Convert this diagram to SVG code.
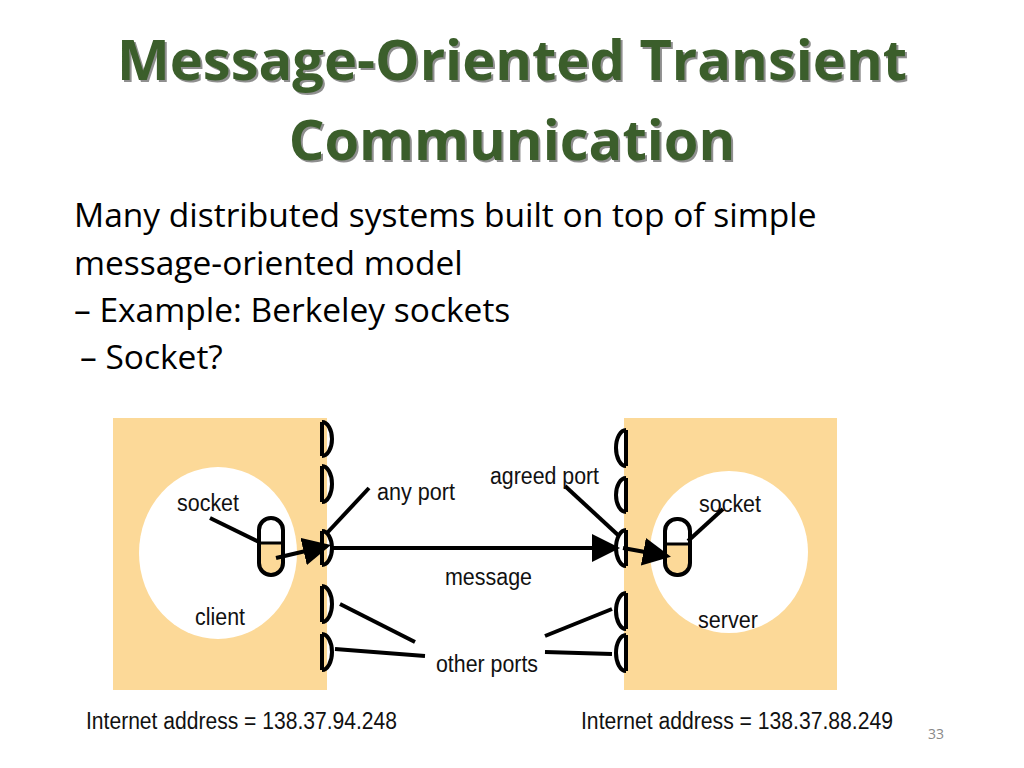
<svg xmlns="http://www.w3.org/2000/svg" width="1024" height="768" viewBox="0 0 1024 768">
<style>
.t{font-family:"Open Sans","Liberation Sans",sans-serif;font-weight:bold;font-size:56px;fill:#3b5e2b;text-anchor:middle}
.ts{font-family:"Open Sans","Liberation Sans",sans-serif;font-weight:bold;font-size:56px;fill:#222;opacity:.5;text-anchor:middle}
.b{font-family:"Open Sans","Liberation Sans",sans-serif;font-size:33.5px;fill:#000}
.l{font-family:"Liberation Sans",Arial,sans-serif;font-size:23px;fill:#111}
.ln{stroke:#000;stroke-width:4;fill:none}
.pt{stroke:#000;stroke-width:4;fill:none}
</style>
<defs>
<marker id="ah" markerWidth="7" markerHeight="7" refX="6" refY="3.5" orient="auto" markerUnits="strokeWidth"><path d="M0,0 L7,3.5 L0,7 z" fill="#000"/></marker>
</defs>
<rect width="1024" height="768" fill="#fff"/>
<g id="title">
<text class="ts" x="514" y="82">Message-Oriented Transient</text>
<text class="ts" x="514" y="162">Communication</text>
<text class="t" x="512" y="80">Message-Oriented Transient</text>
<text class="t" x="512" y="160">Communication</text>
</g>
<g id="body">
<text class="b" x="74" y="227">Many distributed systems built on top of simple</text>
<text class="b" x="74" y="275">message-oriented model</text>
<text class="b" x="74" y="322">– Example: Berkeley sockets</text>
<text class="b" x="80" y="369">– Socket?</text>
</g>
<g id="client">
<rect x="113" y="418" width="214" height="272" fill="#fcd998"/>
<ellipse cx="218" cy="553" rx="79" ry="86" fill="#fff"/>
<rect x="259" y="518" width="24" height="57" rx="12" fill="#fcd998"/>
<path d="M259,530 a12,12 0 0 1 24,0 v13 h-24 z" fill="#fff"/>
<rect x="259" y="518" width="24" height="57" rx="12" fill="none" stroke="#000" stroke-width="4"/>
<line x1="259" y1="543" x2="283" y2="543" stroke="#000" stroke-width="3"/>
<text class="l" x="177" y="511" textLength="62" lengthAdjust="spacingAndGlyphs">socket</text>
<text class="l" x="195" y="625" textLength="50" lengthAdjust="spacingAndGlyphs">client</text>
</g>
<g id="client-ports">
<path class="pt" d="M322,422 v34 M322,422 a10,17 0 0 1 0,34"/>
<path class="pt" d="M322,466 v36 M322,466 a10,18 0 0 1 0,36"/>
<path class="pt" d="M322,531 v34 M322,531 a10,17 0 0 1 0,34"/>
<path class="pt" d="M322,586 v36 M322,586 a10,18 0 0 1 0,36"/>
<path class="pt" d="M322,634 v36 M322,634 a10,18 0 0 1 0,36"/>
</g>
<g id="server">
<rect x="624" y="418" width="213" height="272" fill="#fcd998"/>
<ellipse cx="729" cy="552" rx="79" ry="81" fill="#fff"/>
<rect x="665" y="519" width="25" height="56" rx="12" fill="#fcd998"/>
<path d="M665,531 a12.5,12 0 0 1 25,0 v13 h-25 z" fill="#fff"/>
<rect x="665" y="519" width="25" height="56" rx="12" fill="none" stroke="#000" stroke-width="4"/>
<line x1="665" y1="544" x2="690" y2="544" stroke="#000" stroke-width="3"/>
<text class="l" x="699" y="512" textLength="62" lengthAdjust="spacingAndGlyphs">socket</text>
<text class="l" x="698" y="628" textLength="60" lengthAdjust="spacingAndGlyphs">server</text>
</g>
<g id="server-ports">
<path class="pt" d="M626,430 v36 M626,430 a10,18 0 0 0 0,36"/>
<path class="pt" d="M626,478 v34 M626,478 a10,17 0 0 0 0,34"/>
<path class="pt" d="M626,530 v36 M626,530 a10,18 0 0 0 0,36"/>
<path class="pt" d="M626,593 v36 M626,593 a10,18 0 0 0 0,36"/>
<path class="pt" d="M626,635 v36 M626,635 a10,18 0 0 0 0,36"/>
</g>
<g id="connectors">
<line class="ln" x1="276" y1="558" x2="327" y2="546" marker-end="url(#ah)"/>
<line class="ln" x1="333" y1="548" x2="616" y2="548" marker-end="url(#ah)"/>
<line class="ln" x1="623" y1="548" x2="667" y2="556" marker-end="url(#ah)"/>
<line class="ln" x1="210" y1="518" x2="259" y2="542"/>
<line class="ln" x1="688" y1="541" x2="723" y2="509"/>
<line class="ln" x1="327" y1="533" x2="369" y2="488"/>
<line class="ln" x1="565" y1="486" x2="618" y2="535"/>
<line class="ln" x1="340" y1="604" x2="415" y2="642"/>
<line class="ln" x1="335" y1="649" x2="425" y2="656"/>
<line class="ln" x1="545" y1="636" x2="612" y2="609"/>
<line class="ln" x1="545" y1="652" x2="612" y2="654"/>
</g>
<g id="labels">
<text class="l" x="377" y="500" textLength="78" lengthAdjust="spacingAndGlyphs">any port</text>
<text class="l" x="490" y="484" textLength="109" lengthAdjust="spacingAndGlyphs">agreed port</text>
<text class="l" x="445" y="585" textLength="87" lengthAdjust="spacingAndGlyphs">message</text>
<text class="l" x="436" y="672" textLength="102" lengthAdjust="spacingAndGlyphs">other ports</text>
<text class="l" x="86" y="729" textLength="311" lengthAdjust="spacingAndGlyphs">Internet address = 138.37.94.248</text>
<text class="l" x="581" y="729" textLength="312" lengthAdjust="spacingAndGlyphs">Internet address = 138.37.88.249</text>
<text x="928" y="739" font-family="'Open Sans',sans-serif" font-size="14" fill="#888">33</text>
</g>
</svg>
